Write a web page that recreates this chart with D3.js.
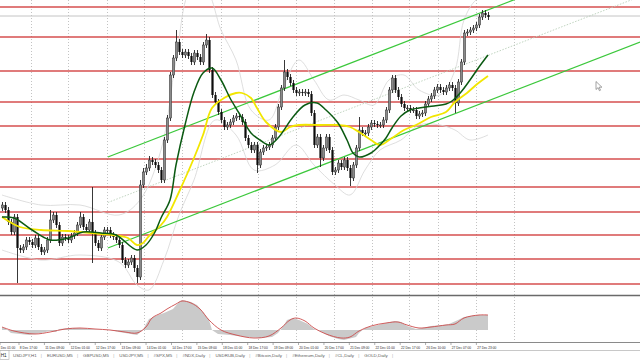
<!DOCTYPE html>
<html><head><meta charset="utf-8">
<script src="https://cdn.jsdelivr.net/npm/d3@7"></script>
<style>html,body{margin:0;padding:0;background:#fff;overflow:hidden}svg{display:block}</style>
</head><body><svg id="c" width="640" height="360"></svg>
<script>
// ---- candle data (H1-like bars) ----
const openP = [1.0788,1.0791,1.0786,1.0774,1.0764,1.0779,1.0748,1.0746,1.0749,1.0756,
1.0754,1.0751,1.0758,1.0749,1.0744,1.0746,1.0756,1.0776,1.0781,1.0771,
1.0753,1.0759,1.0758,1.0756,1.0760,1.0763,1.0771,1.0779,1.0769,1.0766,
1.0774,1.0763,1.0753,1.0748,1.0759,1.0766,1.0766,1.0761,1.0759,1.0756,
1.0751,1.0736,1.0731,1.0734,1.0738,1.0728,1.0719,1.0811,1.0824,1.0828,
1.0836,1.0834,1.0831,1.0826,1.0816,1.0856,1.0878,1.0921,1.0938,1.0954,
1.0944,1.0941,1.0944,1.0940,1.0934,1.0943,1.0939,1.0934,1.0951,1.0956,
1.0926,1.0901,1.0894,1.0884,1.0876,1.0869,1.0871,1.0874,1.0878,1.0880,
1.0879,1.0874,1.0858,1.0851,1.0846,1.0851,1.0831,1.0844,1.0848,1.0849,
1.0851,1.0858,1.0869,1.0889,1.0908,1.0924,1.0919,1.0913,1.0906,1.0903,
1.0904,1.0903,1.0904,1.0902,1.0883,1.0851,1.0859,1.0838,1.0848,1.0859,
1.0846,1.0824,1.0826,1.0833,1.0829,1.0836,1.0828,1.0818,1.0831,1.0848,
1.0866,1.0863,1.0863,1.0869,1.0873,1.0872,1.0871,1.0871,1.0876,1.0886,
1.0906,1.0918,1.0906,1.0899,1.0892,1.0888,1.0888,1.0886,1.0886,1.0880,
1.0882,1.0883,1.0892,1.0897,1.0900,1.0906,1.0909,1.0906,1.0904,1.0908,
1.0911,1.0908,1.0893,1.0914,1.0934,1.0963,1.0964,1.0966,1.0968,1.0971,
1.0979,1.0983,1.0981];
const closeP = [1.0791,1.0786,1.0774,1.0764,1.0779,1.0748,1.0746,1.0749,1.0756,1.0754,
1.0751,1.0758,1.0749,1.0744,1.0746,1.0756,1.0776,1.0781,1.0771,1.0753,
1.0759,1.0758,1.0756,1.0760,1.0763,1.0771,1.0779,1.0769,1.0766,1.0774,
1.0763,1.0753,1.0748,1.0759,1.0766,1.0766,1.0761,1.0759,1.0756,1.0751,
1.0736,1.0731,1.0734,1.0738,1.0728,1.0719,1.0811,1.0824,1.0828,1.0836,
1.0834,1.0831,1.0826,1.0816,1.0856,1.0878,1.0921,1.0938,1.0954,1.0944,
1.0941,1.0944,1.0940,1.0934,1.0943,1.0939,1.0934,1.0951,1.0956,1.0926,
1.0901,1.0894,1.0884,1.0876,1.0869,1.0871,1.0874,1.0878,1.0880,1.0879,
1.0874,1.0858,1.0851,1.0846,1.0851,1.0831,1.0844,1.0848,1.0849,1.0851,
1.0858,1.0869,1.0889,1.0908,1.0924,1.0919,1.0913,1.0906,1.0903,1.0904,
1.0903,1.0904,1.0902,1.0883,1.0851,1.0859,1.0838,1.0848,1.0859,1.0846,
1.0824,1.0826,1.0833,1.0829,1.0836,1.0828,1.0818,1.0831,1.0848,1.0866,
1.0863,1.0863,1.0869,1.0873,1.0872,1.0871,1.0871,1.0876,1.0886,1.0906,
1.0918,1.0906,1.0899,1.0892,1.0888,1.0888,1.0886,1.0886,1.0880,1.0882,
1.0883,1.0892,1.0897,1.0900,1.0906,1.0909,1.0906,1.0904,1.0908,1.0911,
1.0908,1.0893,1.0914,1.0934,1.0963,1.0964,1.0966,1.0968,1.0971,1.0979,
1.0983,1.0981,1.0979];
const highP = [1.0794,1.0794,1.0789,1.0777,1.0782,1.0782,1.0751,1.0752,1.0759,1.0759,
1.0757,1.0761,1.0761,1.0752,1.0749,1.0759,1.0786,1.0784,1.0784,1.0774,
1.0762,1.0762,1.0761,1.0763,1.0766,1.0774,1.0784,1.0782,1.0772,1.0777,
1.0809,1.0766,1.0756,1.0762,1.0769,1.0769,1.0769,1.0764,1.0762,1.0759,
1.0754,1.0739,1.0737,1.0741,1.0741,1.0731,1.0816,1.0828,1.0832,1.0840,
1.0839,1.0837,1.0834,1.0829,1.0859,1.0881,1.0924,1.0941,1.0966,1.0957,
1.0947,1.0947,1.0947,1.0943,1.0946,1.0946,1.0942,1.0954,1.0962,1.0959,
1.0929,1.0904,1.0897,1.0887,1.0879,1.0874,1.0877,1.0881,1.0883,1.0883,
1.0882,1.0877,1.0861,1.0854,1.0854,1.0854,1.0847,1.0851,1.0852,1.0854,
1.0861,1.0872,1.0892,1.0911,1.0936,1.0927,1.0922,1.0916,1.0909,1.0907,
1.0907,1.0907,1.0907,1.0905,1.0886,1.0862,1.0862,1.0851,1.0862,1.0862,
1.0849,1.0829,1.0836,1.0836,1.0839,1.0839,1.0831,1.0834,1.0851,1.0879,
1.0869,1.0866,1.0872,1.0876,1.0876,1.0875,1.0874,1.0879,1.0889,1.0909,
1.0921,1.0921,1.0909,1.0902,1.0895,1.0891,1.0891,1.0889,1.0889,1.0885,
1.0886,1.0895,1.0900,1.0903,1.0909,1.0912,1.0912,1.0909,1.0911,1.0914,
1.0914,1.0911,1.0917,1.0937,1.0966,1.0967,1.0969,1.0971,1.0974,1.0982,
1.0986,1.0986,1.0984];
const lowP = [1.0785,1.0783,1.0771,1.0761,1.0761,1.0713,1.0743,1.0743,1.0746,1.0751,
1.0748,1.0748,1.0746,1.0741,1.0741,1.0743,1.0753,1.0773,1.0768,1.0750,
1.0750,1.0755,1.0753,1.0753,1.0757,1.0760,1.0768,1.0766,1.0763,1.0763,
1.0733,1.0750,1.0745,1.0745,1.0756,1.0763,1.0758,1.0756,1.0753,1.0748,
1.0733,1.0728,1.0728,1.0731,1.0724,1.0713,1.0716,1.0808,1.0821,1.0825,
1.0831,1.0828,1.0823,1.0813,1.0813,1.0853,1.0875,1.0918,1.0935,1.0941,
1.0938,1.0938,1.0937,1.0931,1.0931,1.0936,1.0931,1.0931,1.0948,1.0923,
1.0898,1.0891,1.0881,1.0873,1.0866,1.0866,1.0868,1.0871,1.0875,1.0876,
1.0871,1.0855,1.0848,1.0843,1.0843,1.0823,1.0828,1.0841,1.0845,1.0846,
1.0848,1.0855,1.0866,1.0886,1.0905,1.0916,1.0910,1.0903,1.0900,1.0900,
1.0900,1.0900,1.0899,1.0880,1.0848,1.0848,1.0829,1.0835,1.0845,1.0843,
1.0821,1.0821,1.0823,1.0826,1.0826,1.0825,1.0810,1.0815,1.0828,1.0845,
1.0860,1.0860,1.0860,1.0866,1.0869,1.0868,1.0868,1.0868,1.0873,1.0883,
1.0903,1.0903,1.0896,1.0889,1.0885,1.0885,1.0883,1.0883,1.0877,1.0877,
1.0879,1.0880,1.0889,1.0894,1.0897,1.0903,1.0903,1.0901,1.0901,1.0905,
1.0905,1.0883,1.0890,1.0911,1.0931,1.0960,1.0961,1.0963,1.0965,1.0968,
1.0976,1.0978,1.0976];

// ---- moving averages (bar index -> value) ----
const maDarkIdx = [0,4,10,16,22,27,33,38,45,48,51,53,56,58,61,64,67,70,73,76,79,83,86,89,92,97,101,105,108,112,115,117,119,123,126,128,130,133,136,139,144,148,150,153,156,159,162];
const maDarkVal = [1.0779,1.0778,1.0766,1.0756,1.0758,1.0764,1.0763,1.0761,1.0746,1.0751,1.0764,1.0778,1.0796,1.0831,1.0871,1.0904,1.0923,1.0928,1.0916,1.0898,1.0883,1.0863,1.0856,1.0851,1.0858,1.0879,1.0891,1.0893,1.0886,1.0873,1.0856,1.0843,1.0839,1.0843,1.0851,1.0858,1.0868,1.0880,1.0886,1.0888,1.0890,1.0892,1.0895,1.0904,1.0916,1.0929,1.0941];
const maYellowIdx = [0,6,13,22,33,37,42,45,47,49,53,55,59,64,67,70,74,78,80,83,85,88,93,96,99,106,112,116,119,123,126,130,134,138,143,148,151,155,158,162];
const maYellowVal = [1.0779,1.0769,1.0766,1.0765,1.0762,1.0761,1.0758,1.0751,1.0753,1.0760,1.0771,1.0779,1.0804,1.0838,1.0861,1.0888,1.0898,1.0903,1.0903,1.0898,1.0888,1.0874,1.0864,1.0869,1.0871,1.0871,1.0871,1.0869,1.0864,1.0856,1.0851,1.0858,1.0866,1.0871,1.0879,1.0884,1.0894,1.0903,1.0911,1.0920];

// ---- faint envelope bands ----
const bandUpIdx = [0,13,26,39,46,53,58,63,68,73,78,83,89,94,99,104,109,114,119,124,129,134,139,146,151,154,158,162];
const bandUpVal = [1.0801,1.0791,1.0791,1.0781,1.0796,1.0846,1.0936,1.1006,1.1006,1.0966,1.0936,1.0886,1.0876,1.0911,1.0936,1.0916,1.0896,1.0901,1.0896,1.0891,1.0916,1.0921,1.0906,1.0901,1.0926,1.0976,1.0996,1.1001];
const bandLoIdx = [0,13,26,39,45,49,54,59,64,71,78,84,91,98,104,111,116,121,126,133,139,146,151,156,162];
const bandLoVal = [1.0746,1.0736,1.0741,1.0734,1.0711,1.0706,1.0736,1.0781,1.0816,1.0876,1.0861,1.0826,1.0831,1.0851,1.0831,1.0811,1.0801,1.0826,1.0846,1.0856,1.0871,1.0871,1.0866,1.0856,1.0861];

// ---- horizontal levels, bid, channel ----
const levels = [1.0989,1.0959,1.0925,1.0894,1.0870,1.0837,1.0809,1.0784,1.0761,1.0737,1.0712];
const bidPrice = 1.0980;
const channelIdx = [35.3, 212.7];
const channelUpper = [1.0839, 1.1045];
const channelLower = [1.0748, 1.0954];

// ---- oscillator (histogram + signal) ----
const histIdx = [0,1,3,6,9,13,16,18,19,23,26,29,33,36,39,43,45,47,48,49,52,54,57,59,60,63,65,67,69,70,72,76,81,86,90,92,94,95,97,99,102,104,106,109,112,114,118,119,121,124,128,131,133,135,138,140,143,147,149,152,154,158,162];
const histVal = [0.0003,0.0002,-0.0003,-0.0004,-0.0005,-0.0003,-0.0001,-0.0002,0.0001,0.0002,0.0002,0.0001,0,0,-0.0002,-0.0004,-0.0005,0,0.0006,0.0011,0.0015,0.0017,0.0021,0.0028,0.0030,0.0028,0.0025,0.0018,0.0010,0,-0.0004,-0.0005,-0.0007,-0.0008,-0.0007,-0.0003,0.0005,0.0010,0.0012,0.0010,0.0006,0.0001,-0.0001,-0.0006,-0.0009,-0.0010,-0.0007,-0.0003,0.0002,0.0004,0.0007,0.0009,0.0008,0.0004,0.0001,0.0002,0.0004,0.0005,0.0006,0.0010,0.0013,0.0015,0.0015];
const sigIdx = [0,4,11,16,21,26,31,36,41,45,48,50,53,55,58,60,63,66,69,73,78,84,89,93,96,98,101,104,108,113,116,119,123,128,132,135,139,143,148,151,154,159,162];
const sigVal = [0.0003,-0.0001,-0.0004,-0.0002,0.0001,0.0002,0.0001,0,-0.0002,-0.0003,0.0003,0.0012,0.0017,0.0021,0.0026,0.0029,0.0027,0.0021,0.0010,0,-0.0005,-0.0008,-0.0006,0.0002,0.0010,0.0012,0.0009,0.0002,-0.0004,-0.0008,-0.0007,-0.0001,0.0004,0.0007,0.0008,0.0005,0.0002,0.0003,0.0005,0.0006,0.0012,0.0015,0.0015];

// ---- axis labels, grid, tabs ----
const timeLabels = ["Dec 01:00","8 Dec 17:00","11 Dec 09:00","12 Dec 01:00","12 Dec 17:00","13 Dec 09:00","14 Dec 01:00","14 Dec 17:00","15 Dec 09:00","18 Dec 01:00","18 Dec 17:00","19 Dec 09:00","20 Dec 01:00","20 Dec 17:00","21 Dec 09:00","22 Dec 01:00","22 Dec 17:00","26 Dec 10:00","27 Dec 07:00","27 Dec 23:00"];
const gridIdx = [9.7,22,35,47.3,60,73,85.3,98,110.7,123.3,135.7,145.3,158,170.7];
const tabs = ["USDJPY,H1","EURUSD,M5","GBPUSD,M5","USDJPY,M5","#SPX,M5","#NDX,Daily","USDRUB,Daily","#Bitcoin,Daily","#Ethereum,Daily","#CL,Daily","GOLD,Daily"];

const svg = d3.select('#c');
const x = d3.scaleLinear().domain([0,162]).range([2,488]);
const y = d3.scaleLinear().domain([1.0700,1.0996]).range([296,0]);
const yi = d3.scaleLinear().domain([-0.0011,0.0033]).range([341,297]);

const defs = svg.append('defs');
defs.append('clipPath').attr('id','mainClip').append('rect').attr('x',0).attr('y',0).attr('width',640).attr('height',295);
defs.append('clipPath').attr('id','indClip').append('rect').attr('x',0).attr('y',297).attr('width',640).attr('height',45);

// grid
svg.append('g').selectAll('line').data(gridIdx).join('line')
  .attr('x1',d=>Math.round(x(d))+0.5).attr('x2',d=>Math.round(x(d))+0.5)
  .attr('y1',0).attr('y2',342)
  .attr('stroke','#b4b4b4').attr('stroke-width',0.8).attr('stroke-dasharray','1,2');

const main = svg.append('g').attr('clip-path','url(#mainClip)');

// levels
main.append('g').selectAll('line').data(levels).join('line')
  .attr('x1',0).attr('x2',640).attr('y1',d=>y(d)).attr('y2',d=>y(d))
  .attr('stroke','#d23c3c').attr('stroke-width',1.5).attr('stroke-opacity',0.9);
main.append('line').attr('x1',0).attr('x2',640).attr('y1',y(bidPrice)).attr('y2',y(bidPrice))
  .attr('stroke','#c4c4c4').attr('stroke-width',1);

// bands
const lineIdx = d3.line().x(d=>x(d[0])).y(d=>y(d[1])).curve(d3.curveCatmullRom.alpha(0.5));
main.append('path').datum(d3.zip(bandUpIdx,bandUpVal)).attr('d',lineIdx)
  .attr('fill','none').attr('stroke','#d6d6d6').attr('stroke-width',0.8);
main.append('path').datum(d3.zip(bandLoIdx,bandLoVal)).attr('d',lineIdx)
  .attr('fill','none').attr('stroke','#d6d6d6').attr('stroke-width',0.8);

// channel
const straight = d3.line().x(d=>x(d[0])).y(d=>y(d[1]));
const chMid = channelUpper.map((u,i)=>(u+channelLower[i])/2);
main.append('path').datum(d3.zip(channelIdx,chMid)).attr('d',straight)
  .attr('fill','none').attr('stroke','#b9cfb9').attr('stroke-width',0.9).attr('stroke-dasharray','1.5,1.5');
main.append('path').datum(d3.zip(channelIdx,channelUpper)).attr('d',straight)
  .attr('fill','none').attr('stroke','#3cc83c').attr('stroke-width',1.3);
main.append('path').datum(d3.zip(channelIdx,channelLower)).attr('d',straight)
  .attr('fill','none').attr('stroke','#3cc83c').attr('stroke-width',1.3);

// candles
const idx = d3.range(closeP.length);
const cg = main.append('g');
cg.selectAll('line').data(idx).join('line')
  .attr('x1',i=>x(i)+0.5).attr('x2',i=>x(i)+0.5)
  .attr('y1',i=>y(highP[i])).attr('y2',i=>y(lowP[i]))
  .attr('stroke','#222').attr('stroke-width',0.9);
cg.selectAll('rect').data(idx).join('rect')
  .attr('x',i=>x(i)-0.6).attr('width',2.2)
  .attr('y',i=>y(Math.max(openP[i],closeP[i])))
  .attr('height',i=>Math.max(0.8,Math.abs(y(openP[i])-y(closeP[i]))))
  .attr('fill',i=>closeP[i]>=openP[i]?'#8a8a8a':'#0d0d0d')
  .attr('stroke',i=>closeP[i]>=openP[i]?'#2a2a2a':'none').attr('stroke-width',0.5);

// moving averages
main.append('path').datum(d3.zip(maYellowIdx,maYellowVal)).attr('d',lineIdx)
  .attr('fill','none').attr('stroke','#f2e600').attr('stroke-width',1.8);
main.append('path').datum(d3.zip(maDarkIdx,maDarkVal)).attr('d',lineIdx)
  .attr('fill','none').attr('stroke','#0b5a12').attr('stroke-width',1.5);

// separator between panes
svg.append('line').attr('x1',0).attr('x2',640).attr('y1',295.5).attr('y2',295.5)
  .attr('stroke','#6a6a6a').attr('stroke-width',1.6);

// indicator
const ind = svg.append('g').attr('clip-path','url(#indClip)');
ind.append('path').datum(d3.zip(histIdx,histVal))
  .attr('d',d3.area().x(d=>x(d[0])).y0(yi(0)).y1(d=>yi(d[1])))
  .attr('fill','#cacaca');
ind.append('path').datum(d3.zip(sigIdx,sigVal))
  .attr('d',d3.line().x(d=>x(d[0])).y(d=>yi(d[1])).curve(d3.curveCatmullRom.alpha(0.5)))
  .attr('fill','none').attr('stroke','#cc4b4b').attr('stroke-width',0.9);

// time axis
svg.append('line').attr('x1',0).attr('x2',640).attr('y1',342.5).attr('y2',342.5)
  .attr('stroke','#8a8a8a').attr('stroke-width',1);
const tickStart = -2.8, tickStep = 8.47;
const tg = svg.append('g').selectAll('g').data(timeLabels).join('g')
  .attr('transform',(d,k)=>`translate(${Math.max(0, x(tickStart+k*tickStep))},0)`);
tg.append('line').attr('x1',0).attr('x2',0).attr('y1',342.5).attr('y2',345).attr('stroke','#777').attr('stroke-width',0.6);
tg.append('text').attr('x',0.8).attr('y',348.8).text(d=>d)
  .attr('font-family','Liberation Sans, Arial, sans-serif').attr('font-size',4.2)
  .attr('fill','#2a2a2a').attr('textLength',d=>d.length*1.6).attr('lengthAdjust','spacingAndGlyphs');

// tabs strip
svg.append('line').attr('x1',0).attr('x2',640).attr('y1',350.5).attr('y2',350.5).attr('stroke','#c8c8c8').attr('stroke-width',1);
svg.append('rect').attr('x',0).attr('y',350.5).attr('width',9).attr('height',9).attr('fill','#fff').attr('stroke','#aaa').attr('stroke-width',0.6);
svg.append('text').attr('x',0.8).attr('y',357).text('H1')
  .attr('font-family','Liberation Sans, Arial, sans-serif').attr('font-size',4.6).attr('fill','#222');
let tx = 13;
const tabG = svg.append('g').attr('font-family','Liberation Sans, Arial, sans-serif').attr('font-size',4.4).attr('fill','#5a5a5a');
tabs.forEach(t=>{
  const el = tabG.append('text').attr('x',tx).attr('y',357).text(t);
  const w = el.node().getComputedTextLength();
  tabG.append('text').attr('x',tx+w+4.2).attr('y',357).text('|').attr('fill','#aaa');
  tx += w + 10.3;
});

// mouse cursor
svg.append('path').attr('d','M596,81.5 l0,8 l2,-1.8 l1.4,3 l1.1,-0.5 l-1.4,-3 l2.8,0 z')
  .attr('fill','#fff').attr('stroke','#666').attr('stroke-width',0.6);
</script></body></html>
